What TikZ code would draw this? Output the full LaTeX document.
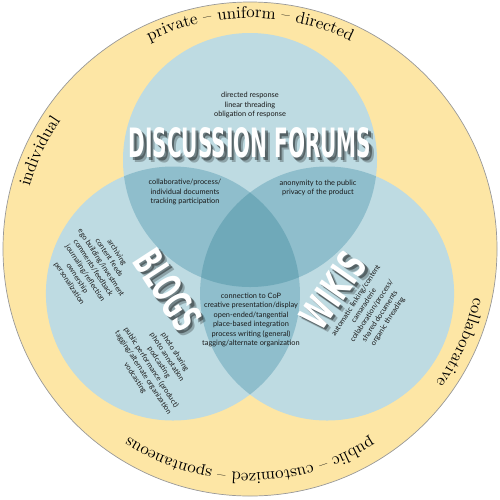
\documentclass[tikz,border=0pt]{standalone}
\usepackage{fontspec}
\usepackage{graphicx}
\usetikzlibrary{decorations.text}
\newfontfamily\listfont{Lato}
\newfontfamily\headfont{DejaVu Sans}
\definecolor{ringyellow}{RGB}{253,230,165}
\definecolor{vennone}{RGB}{190,219,226}
\definecolor{venntwo}{RGB}{143,190,204}
\definecolor{vennthree}{RGB}{111,169,185}
\definecolor{listgray}{RGB}{25,25,25}
\tikzset{
  listtext/.style={font=\listfont\fontsize{4.2}{5.4}\selectfont, text=listgray, align=center, inner sep=0pt},
  headword/.style={text=white, inner sep=0pt, font=\headfont\bfseries},
  headshadow/.style={text=black, opacity=#1, inner sep=0pt, font=\headfont\bfseries},
  ringtext/.style={decorate, decoration={text along path, text align=center, text={#1}}},
}
\begin{document}
\begin{tikzpicture}
\useasboundingbox (-5,-5) rectangle (5,4.98);

\coordinate (mid) at (0,0);
\coordinate (ctop) at (90:1.78);
\coordinate (cleft) at (210:1.78);
\coordinate (cright) at (330:1.78);

\fill[ringyellow, draw=gray!80, line width=0.4pt] (mid) circle (4.94);
\fill[vennone] (ctop) circle (2.54);
\fill[vennone] (cleft) circle (2.54);
\fill[vennone] (cright) circle (2.54);
\begin{scope}
  \clip (ctop) circle (2.54);
  \fill[venntwo] (cleft) circle (2.54);
  \fill[venntwo] (cright) circle (2.54);
\end{scope}
\begin{scope}
  \clip (cleft) circle (2.54);
  \fill[venntwo] (cright) circle (2.54);
\end{scope}
\begin{scope}
  \clip (ctop) circle (2.54);
  \clip (cleft) circle (2.54);
  \fill[vennthree] (cright) circle (2.54);
\end{scope}

\path[ringtext={|\fontsize{9.6}{11}\selectfont|private – uniform – directed}] (150:4.62) arc[start angle=150, end angle=30, radius=4.62];
\path[ringtext={|\fontsize{9.6}{11}\selectfont|individual}] (185:4.58) arc[start angle=185, end angle=125, radius=4.58];
\path[ringtext={|\fontsize{9.6}{11}\selectfont|collaborative}] (16:4.58) arc[start angle=16, end angle=-64, radius=4.58];
\path[ringtext={|\fontsize{9.6}{11}\selectfont|public – customized – spontaneous}] (-10:4.48) arc[start angle=-10, end angle=-170, radius=4.48];

\node[headshadow=0.25] (forumsblur) at (0.09,2.03) {\resizebox{4.85cm}{0.6cm}{DISCUSSION FORUMS}};
\node[headshadow=0.4] (forumsshadow) at (0.05,2.07) {\resizebox{4.85cm}{0.6cm}{DISCUSSION FORUMS}};
\node[headword] (forums) at (0,2.12) {\resizebox{4.85cm}{0.6cm}{DISCUSSION FORUMS}};
\node[headshadow=0.25, rotate=-57] (blogsblur) at (-1.55,-0.91) {\resizebox{1.75cm}{0.6cm}{BLOGS}};
\node[headshadow=0.4, rotate=-57] (blogsshadow) at (-1.59,-0.87) {\resizebox{1.75cm}{0.6cm}{BLOGS}};
\node[headword, rotate=-57] (blogs) at (-1.64,-0.82) {\resizebox{1.75cm}{0.6cm}{BLOGS}};
\node[headshadow=0.25, rotate=55] (wikisblur) at (1.75,-0.91) {\resizebox{1.65cm}{0.6cm}{WIKIS}};
\node[headshadow=0.4, rotate=55] (wikisshadow) at (1.71,-0.87) {\resizebox{1.65cm}{0.6cm}{WIKIS}};
\node[headword, rotate=55] (wikis) at (1.66,-0.82) {\resizebox{1.65cm}{0.6cm}{WIKIS}};

\node[listtext] (forumlist) at (0,2.88) {directed response\\linear threading\\obligation of response};
\node[listtext] (forumblog) at (-1.30,1.14) {collaborative/process/\\individual documents\\tracking participation};
\node[listtext] (forumwiki) at (1.36,1.22) {anonymity to the public\\privacy of the product};
\node[listtext] (blogwiki) at (0.02,-1.42) {connection to CoP\\creative presentation/display\\open-ended/tangential\\place-based integration\\process writing (general)\\tagging/alternate organization};
\node[listtext, rotate=-57] (bloglist) at (-3.14,-0.38) {archiving\\content feeds\\ego building/investment\\comments/feedback\\journaling/reflection\\ownership\\personalization};
\node[listtext, rotate=-57] (photolist) at (-1.9,-2.32) {photo sharing\\photo annotation\\podcasting\\public performance (product)\\tagging/alternate organization\\vodcasting};
\node[listtext, rotate=57] (wikilist) at (2.44,-1.24) {automatic linking/content\\camaraderie\\collaboration/process/\\shared documents\\organic threading};

\end{tikzpicture}
\end{document}
